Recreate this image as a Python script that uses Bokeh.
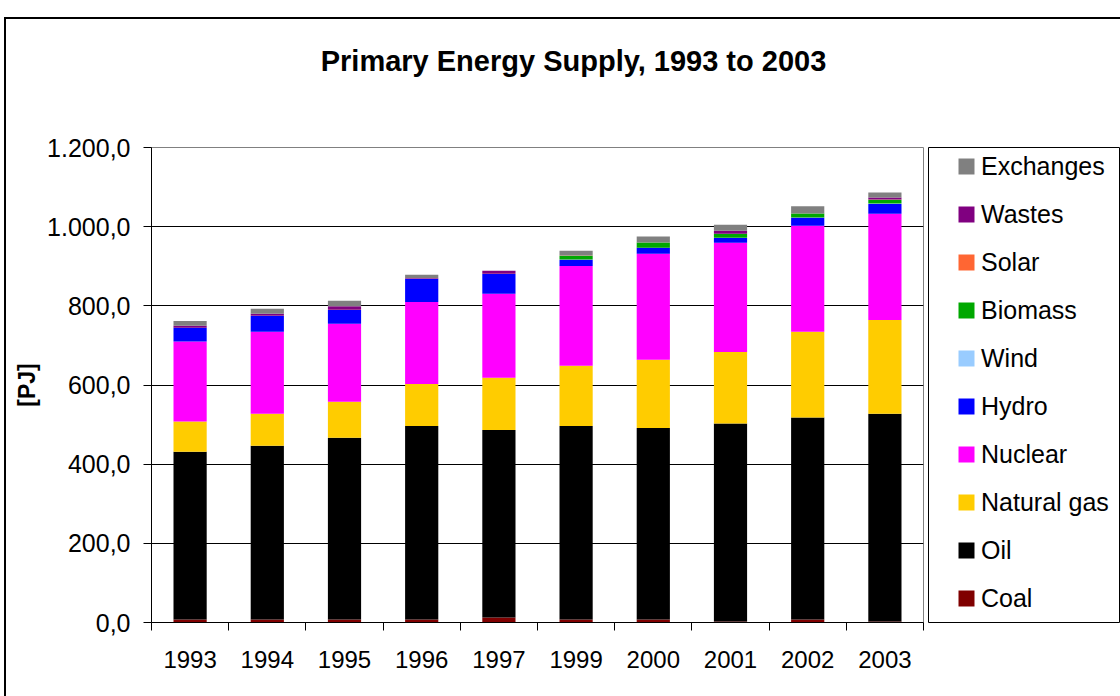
from bokeh.plotting import figure
from bokeh.layouts import row, column
from bokeh.models import (ColumnDataSource, FixedTicker, Legend, LegendItem, Label,
                          Range1d)
from bokeh.embed import file_html
from bokeh.resources import INLINE

# ---------------- data (PJ) ----------------
years = ["1993", "1994", "1995", "1996", "1997", "1999", "2000", "2001", "2002", "2003"]
coal        = [7.6, 7.6, 7.6, 7.6, 12.6, 7.6, 7.6, 2.5, 7.6, 2.5]
oil         = [424, 439, 459, 489, 474, 489, 484, 500, 510, 525]
natural_gas = [76, 81, 91, 106, 132, 152, 172, 181, 217, 237]
nuclear     = [202, 207, 197, 207, 212, 252, 268, 276, 268, 268]
hydro       = [35, 40, 35, 59, 50, 16, 15, 12, 20, 25]
wind        = [0.1, 0.1, 0.1, 0.1, 0.1, 0.2, 0.2, 0.3, 0.5, 0.8]
biomass     = [0, 0, 0, 0, 0, 10, 13, 10, 10, 10]
solar       = [0.2, 0.2, 0.2, 0.2, 0.2, 0.2, 0.2, 0.2, 0.2, 0.2]
wastes      = [5, 5, 9, 1.5, 8, 0, 0, 8, 0, 5]
exchanges   = [12, 13, 14, 8, 0, 12, 15, 15, 18, 13]

series_names = ["Coal", "Oil", "Natural gas", "Nuclear", "Hydro", "Wind",
                "Biomass", "Solar", "Wastes", "Exchanges"]
series_keys = ["coal", "oil", "natural_gas", "nuclear", "hydro", "wind",
               "biomass", "solar", "wastes", "exchanges"]
series_colors = ["#800000", "#000000", "#FFCC00", "#FF00FF", "#0000FF", "#99CCFF",
                 "#00A800", "#FF6633", "#800080", "#808080"]

y_ticks = [0, 200, 400, 600, 800, 1000, 1200]
y_tick_labels = ["0,0", "200,0", "400,0", "600,0", "800,0", "1.000,0", "1.200,0"]

title_text = "Primary Energy Supply, 1993 to 2003"
y_label = "[PJ]"

FONT = "Liberation Sans"
x_pos = list(range(1, len(years) + 1))
source = ColumnDataSource(dict(
    x=x_pos, coal=coal, oil=oil, natural_gas=natural_gas, nuclear=nuclear,
    hydro=hydro, wind=wind, biomass=biomass, solar=solar, wastes=wastes,
    exchanges=exchanges))

# ---------------- title strip ----------------
TOP_H = 100
tf = figure(width=1114, height=TOP_H, output_backend="svg", toolbar_location=None,
            x_range=Range1d(0, 1), y_range=Range1d(0, 1),
            x_axis_location=None, y_axis_location=None, min_border=0)
tf.outline_line_color = None
tf.grid.grid_line_color = None
tf.background_fill_color = "white"
tf.border_fill_color = "white"
tf.add_layout(Label(x=567, y=59, x_units="screen", y_units="screen",
                    text=title_text, text_align="center", text_baseline="middle",
                    text_font=FONT, text_font_size="29px", text_font_style="bold",
                    text_color="black"))

# ---------------- main chart ----------------
H = 577
p = figure(width=920, height=H, output_backend="svg", toolbar_location=None,
           x_range=Range1d(0.5, len(years) + 0.5), y_range=Range1d(0, 1200),
           min_border_left=145, min_border_right=3, min_border_top=28,
           min_border_bottom=74)
p.background_fill_color = "white"
p.border_fill_color = "white"
p.outline_line_color = "#808080"
p.outline_line_width = 1

renderers = p.vbar_stack(series_keys, x="x", width=0.43, color=series_colors,
                         source=source, line_width=0)

# y axis
p.yaxis.ticker = FixedTicker(ticks=y_ticks)
p.yaxis.major_label_overrides = {t: l for t, l in zip(y_ticks, y_tick_labels)}
p.yaxis.major_tick_out = 8
p.yaxis.major_tick_in = 0
p.yaxis.minor_tick_out = 0
p.yaxis.minor_tick_in = 0
p.yaxis.major_label_standoff = 13
p.yaxis.major_label_text_font = FONT
p.yaxis.major_label_text_font_size = "25px"
p.yaxis.major_label_text_color = "black"
p.yaxis.axis_line_color = "black"
p.yaxis.major_tick_line_color = "black"
p.yaxis.axis_label = y_label
p.yaxis.axis_label_text_font = FONT
p.yaxis.axis_label_text_font_size = "23px"
p.yaxis.axis_label_text_font_style = "bold"
p.yaxis.axis_label_text_color = "black"
p.yaxis.axis_label_standoff = 4

# x axis: labels at centres, tick marks at category boundaries
p.xaxis.ticker = FixedTicker(ticks=x_pos,
                             minor_ticks=[v + 0.5 for v in range(0, len(years) + 1)])
p.xaxis.major_label_overrides = {x: y for x, y in zip(x_pos, years)}
p.xaxis.major_tick_out = 0
p.xaxis.major_tick_in = 0
p.xaxis.minor_tick_out = 8
p.xaxis.minor_tick_in = 0
p.xaxis.minor_tick_line_color = "black"
p.xaxis.axis_line_color = "black"
p.xaxis.major_label_standoff = 20
p.xaxis.major_label_text_font = FONT
p.xaxis.major_label_text_font_size = "24px"
p.xaxis.major_label_text_color = "black"

p.xgrid.grid_line_color = None
p.ygrid.ticker = FixedTicker(ticks=y_ticks)
p.ygrid.grid_line_color = "black"
p.ygrid.grid_line_width = 1

# ---------------- legend panel ----------------
p2 = figure(width=194, height=H, output_backend="svg", toolbar_location=None,
            x_range=Range1d(0, 1), y_range=Range1d(0, 1),
            x_axis_location=None, y_axis_location=None,
            min_border_left=2, min_border_right=0, min_border_top=27,
            min_border_bottom=71)
p2.background_fill_color = "white"
p2.border_fill_color = "white"
p2.outline_line_color = "#000000"
p2.outline_line_width = 1
p2.grid.grid_line_color = None
# zero-height proxy bars that only carry the legend swatches
legend_source = ColumnDataSource({"x": [0.5], **{k: [0] for k in series_keys}})
r2 = p2.vbar_stack(series_keys, x="x", width=0.43, fill_color=series_colors,
                   line_color=None, source=legend_source)

items = [LegendItem(label=n, renderers=[r])
         for n, r in zip(reversed(series_names), reversed(r2))]
legend = Legend(items=items, location=(28, 9), padding=0, margin=0, spacing=18,
                label_height=30, glyph_height=20, glyph_width=20, label_standoff=5,
                label_text_font=FONT, label_text_font_size="25px",
                label_text_color="black", border_line_alpha=0,
                background_fill_alpha=0)
p2.add_layout(legend)

layout = column(tf, row(p, p2, spacing=0), spacing=0)
layout.styles = {"margin-left": "4px", "margin-top": "17px",
                 "border-left": "2px solid black", "border-top": "2px solid black"}

open("out.html", "w").write(file_html(layout, INLINE))
